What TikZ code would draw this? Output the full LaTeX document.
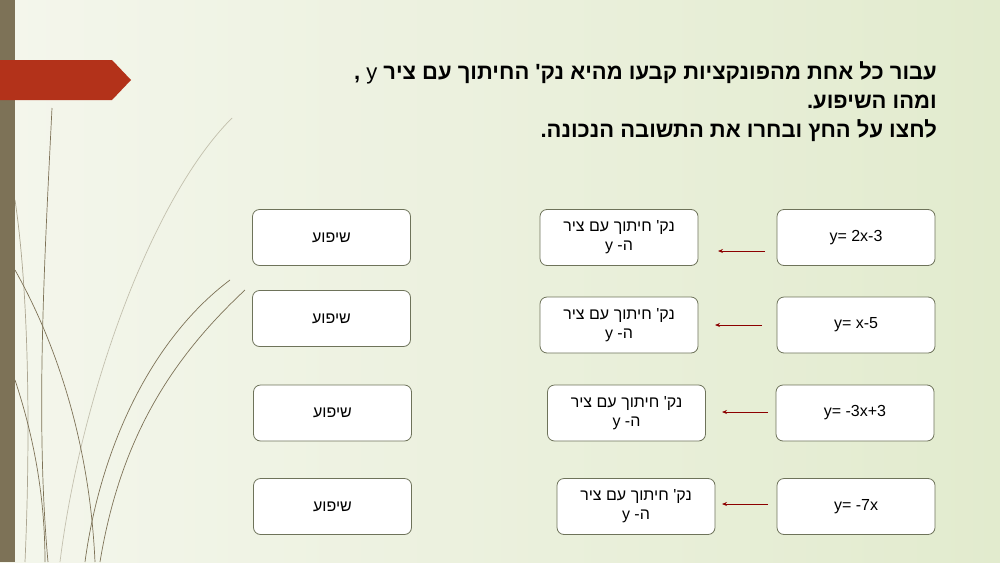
\documentclass[tikz,border=0pt]{standalone}
\usepackage{fontspec}
\usetikzlibrary{arrows.meta}
\setmainfont{Liberation Sans}
\TeXXeTstate=1
\newfontfamily\hebfont[Script=Hebrew]{Liberation Sans}
\definecolor{bgl}{HTML}{F4F6EC}
\definecolor{bgr}{HTML}{E2EBCE}
\definecolor{barc}{HTML}{7D7257}
\definecolor{redc}{HTML}{B3321A}
\definecolor{boxc}{HTML}{6E735A}
\begin{document}
\begin{tikzpicture}[x=1pt,y=-1pt,
  bx/.style={draw=boxc,line width=0.8pt,rounded corners=7pt,fill=white,minimum width=158pt,minimum height=56pt,inner sep=0pt,font=\fontsize{16}{18}\selectfont,align=center},
  arr/.style={draw=red!55!black,line width=0.8pt,-{Stealth[length=5pt,width=4pt]}},
  grass/.style={draw=barc,line width=0.7pt}]
\useasboundingbox (0,0) rectangle (1000,562);
\shade[left color=bgl,right color=bgr] (0,0) rectangle (1000,562);
\fill[barc] (0,0) rectangle (15,562);
% grass
\draw[grass] (52,108) .. controls (45,250) and (35,420) .. (48,562);
\draw[grass,opacity=0.4] (232,118) .. controls (150,200) and (80,400) .. (60,562);
\draw[grass] (15,270) .. controls (60,350) and (90,450) .. (95,562);
\draw[grass] (15,380) .. controls (35,440) and (45,500) .. (45,562);
\draw[grass] (245,290) .. controls (170,360) and (120,440) .. (100,562);
\draw[grass] (230,280) .. controls (150,340) and (100,450) .. (85,562);
\draw[grass,opacity=0.6] (15,200) .. controls (30,300) and (30,450) .. (25,562);
\fill[redc] (0,60) -- (112,60) -- (131,80) -- (112,100) -- (0,100) -- cycle;
% title
\node[anchor=north east,align=right,font=\hebfont\bfseries\fontsize{22}{29}\selectfont,inner sep=0pt] (title) at (937,61)
 {\beginR עבור כל אחת מהפונקציות קבעו מהיא נק' החיתוך עם ציר {\mdseries y} ,\endR\\
  \beginR ומהו השיפוע.\endR\\
  \beginR לחצו על החץ ובחרו את התשובה הנכונה.\endR};
\foreach \i/\rx/\ry/\mx/\lx/\ly/\ax/\bx/\ay/\f in {
 1/856/237.5/619/331.5/237.5/765/718/251/{y= 2x-3},
 2/856/325/619/331.5/318.5/762/715/325/{y= x-5},
 3/855/413/626.5/332.5/413/768/722/412/{y= -3x+3},
 4/856/506.5/636/332.5/506.5/768/722/504/{y= -7x}}{
 \node[bx] (r\i) at (\rx,\ry) {\f};
 \node[bx,font=\hebfont\fontsize{16}{19}\selectfont] (m\i) at (\mx,\ry) {\beginR נק' חיתוך עם ציר\endR\\ \beginR ה- y\endR};
 \node[bx,font=\hebfont\fontsize{16}{19}\selectfont] (l\i) at (\lx,\ly) {\beginR שיפוע\endR};
 \coordinate (s\i) at (\ax,\ay);
 \coordinate (e\i) at (\bx,\ay);
 \draw[arr] (s\i) -- (e\i);
}
\end{tikzpicture}
\end{document}
